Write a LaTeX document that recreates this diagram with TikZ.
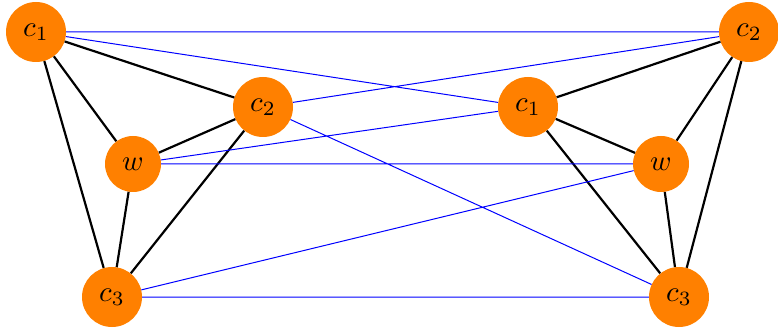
\documentclass[tikz,border=0pt]{standalone}
\usepackage{graphicx}
\begin{document}
\begin{tikzpicture}[x=1pt,y=-1pt,
  vtx/.style={circle,fill=orange,inner sep=0pt,minimum size=60pt,font=\normalsize},
  vtxs/.style={vtx,minimum size=56pt},
  blk/.style={black,line width=2.2pt},
  blu/.style={blue,line width=1pt}]
\useasboundingbox (0,0) rectangle (778,328);
\node[vtx]  (a1) at (36,32)   {\scalebox{2.9}{$c_1$}};
\node[vtx]  (a2) at (263,107) {\scalebox{2.9}{$c_2$}};
\node[vtxs] (aw) at (133,164) {\scalebox{2.9}{$w$}};
\node[vtx]  (a3) at (112,297) {\scalebox{2.9}{$c_3$}};
\node[vtx]  (b1) at (528,107) {\scalebox{2.9}{$c_1$}};
\node[vtx]  (b2) at (749,32)  {\scalebox{2.9}{$c_2$}};
\node[vtxs] (bw) at (661,164) {\scalebox{2.9}{$w$}};
\node[vtx]  (b3) at (679,297) {\scalebox{2.9}{$c_3$}};
\draw[blk] (a1)--(a2) (a1)--(aw) (a1)--(a3) (a2)--(aw) (a2)--(a3) (aw)--(a3);
\draw[blk] (b2)--(b1) (b2)--(bw) (b2)--(b3) (b1)--(bw) (b1)--(b3) (bw)--(b3);
\draw[blu] (a1)--(b2) (a1)--(b1) (a2)--(b2) (a2)--(b3) (aw)--(b1) (aw)--(bw) (a3)--(bw) (a3)--(b3);
\end{tikzpicture}
\end{document}
